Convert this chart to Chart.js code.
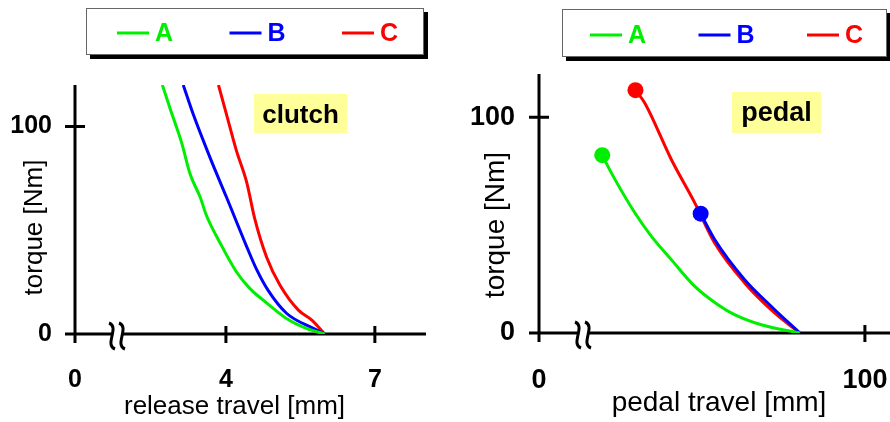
<!DOCTYPE html>
<html>
<head>
<meta charset="utf-8">
<script src="https://cdn.jsdelivr.net/npm/chart.js@4.4.1/dist/chart.umd.min.js"></script>
<style>
  html, body { margin: 0; padding: 0; background: #fff; }
  #wrap { position: relative; width: 890px; height: 422px; overflow: hidden; }
  canvas { position: absolute; top: 0; }
</style>
</head>
<body>
<div id="wrap">
  <canvas id="clutchChart" width="445" height="422" style="left:0"></canvas>
  <canvas id="pedalChart" width="445" height="422" style="left:445px"></canvas>
</div>
<script>
const seriesNames = ['A', 'B', 'C'];
const seriesColors = ['#00ee00', '#0000ff', '#ff0000'];

// clutch: release travel [mm] -> torque [Nm]
const clutchAX = [2.72, 2.87, 3.11, 3.28, 3.48, 3.61, 3.88, 4.21, 4.48, 4.82, 5.22, 5.62, 5.99];
const clutchAY = [120, 109, 92, 77, 66, 57, 44, 30, 22, 15, 7.5, 2.7, 0];
const clutchBX = [3.14, 3.34, 3.68, 4.01, 4.42, 4.62, 4.85, 5.22, 5.76, 5.99];
const clutchBY = [120, 106, 85, 66, 42, 31, 21, 10, 2.7, 0];
const clutchCX = [3.85, 4.01, 4.21, 4.42, 4.58, 4.82, 5.09, 5.46, 5.73, 5.99];
const clutchCY = [120, 106, 88.5, 73, 55.6, 37, 23.5, 11.5, 6.7, 0];
// broken axis: the "0" label sits where the axis starts
const clutchXTicks = [0.96, 4, 7];
const clutchXLabels = ['0', '4', '7'];

// pedal: pedal travel [mm] -> torque [Nm]
const pedalAX = [19.4, 22.2, 29.4, 34.5, 40.6, 47.8, 54.9, 60, 68.2, 80];
const pedalAY = [82.4, 74.2, 55.7, 44.8, 34, 21.6, 13.1, 8.5, 3.8, 0];
const pedalBX = [49.6, 53.9, 63.1, 71.3, 80];
const pedalBY = [55.3, 43.3, 24.7, 12.3, 0];
const pedalCX = [29.6, 32.4, 40.6, 47.8, 53.9, 63.1, 72.3, 80];
const pedalCY = [112.5, 106.7, 80.4, 60.3, 41.7, 23.2, 9.3, 0];
const pedalXTicks = [0, 100];
const pedalXLabels = ['0', '100'];

const torqueTicks = [0, 100];

const FONT = "'Liberation Sans', Arial, sans-serif";

function toPoints(xs, ys) {
  return xs.map((x, i) => ({ x: x, y: ys[i] }));
}

function makeDatasets(seriesX, seriesY, dotRadius) {
  return seriesX.map((xs, i) => ({
    label: seriesNames[i],
    data: toPoints(xs, seriesY[i]),
    borderColor: seriesColors[i],
    backgroundColor: seriesColors[i],
    borderWidth: 3,
    cubicInterpolationMode: 'monotone',
    pointRadius: xs.map((_, j) => (j === 0 ? dotRadius : 0)),
    pointBorderWidth: 0,
    fill: false
  }));
}

function squiggle(ctx, x, y) {
  ctx.beginPath();
  ctx.moveTo(x - 3, y - 13);
  ctx.bezierCurveTo(x + 8, y - 9, x - 8, y + 9, x + 3, y + 13);
  ctx.stroke();
}

const decor = {
  id: 'decor',
  beforeDatasetsDraw(chart, args, o) {
    const { ctx } = chart;
    const xs = chart.scales.x, ys = chart.scales.y;
    const x0 = xs.getPixelForValue(xs.min);
    const y0 = ys.getPixelForValue(0);
    ctx.save();
    ctx.strokeStyle = '#000';
    ctx.lineWidth = 3;
    ctx.beginPath();
    ctx.moveTo(x0, ys.getPixelForValue(ys.max));
    ctx.lineTo(x0, y0 + 9);
    ctx.moveTo(x0 - 10, y0);
    ctx.lineTo(xs.getPixelForValue(xs.max), y0);
    ys.ticks.forEach(t => {
      if (t.value === 0) return;
      const p = ys.getPixelForValue(t.value);
      ctx.moveTo(x0 - 10, p);
      ctx.lineTo(x0 + 10, p);
    });
    xs.ticks.forEach(t => {
      if (t.value === xs.min) return;
      const p = xs.getPixelForValue(t.value);
      ctx.moveTo(p, y0 - 8);
      ctx.lineTo(p, y0 + 9);
    });
    ctx.stroke();
    // axis break
    ctx.fillStyle = '#fff';
    ctx.fillRect(o.breakX - 5, y0 - 3, 10, 6);
    ctx.lineWidth = 3;
    squiggle(ctx, o.breakX - 5, y0 + 2);
    squiggle(ctx, o.breakX + 5, y0 + 2);
    ctx.restore();
  },
  afterDraw(chart, args, o) {
    const { ctx } = chart;
    ctx.save();
    // legend frame with shadow
    const lg = o.legend;
    ctx.fillStyle = '#000';
    ctx.fillRect(lg.x + 4, lg.y + 4, lg.w, lg.h);
    ctx.fillStyle = '#fff';
    ctx.fillRect(lg.x, lg.y, lg.w, lg.h);
    ctx.strokeStyle = '#666';
    ctx.lineWidth = 1;
    ctx.strokeRect(lg.x + 0.5, lg.y + 0.5, lg.w - 1, lg.h - 1);
    chart.data.datasets.forEach((ds, i) => {
      const sx = lg.itemX + i * lg.step;
      ctx.strokeStyle = ds.borderColor;
      ctx.lineWidth = 3;
      ctx.beginPath();
      ctx.moveTo(sx, lg.itemY);
      ctx.lineTo(sx + 32, lg.itemY);
      ctx.stroke();
      ctx.fillStyle = ds.borderColor;
      ctx.font = 'bold 25px ' + FONT;
      ctx.textAlign = 'left';
      ctx.textBaseline = 'middle';
      ctx.fillText(ds.label, sx + 38, lg.itemY + 1);
    });
    // yellow label box
    const nb = o.note;
    ctx.fillStyle = '#ffff99';
    ctx.fillRect(nb.x, nb.y, nb.w, nb.h);
    ctx.fillStyle = '#000';
    ctx.font = 'bold ' + nb.size + 'px ' + FONT;
    ctx.textAlign = 'center';
    ctx.textBaseline = 'alphabetic';
    ctx.fillText(nb.text, nb.x + nb.w / 2, nb.base);
    // axis titles
    ctx.font = o.titleSize + 'px ' + FONT;
    ctx.textBaseline = 'middle';
    ctx.fillText(o.xTitle.text, o.xTitle.x, o.xTitle.y);
    ctx.translate(o.yTitle.x, o.yTitle.y);
    ctx.rotate(-Math.PI / 2);
    ctx.fillText(o.yTitle.text, 0, 0);
    ctx.restore();
  }
};

function baseOptions(xMin, xMax, xTicks, xLabels, tickSize, pad, yWidth, xHeight, tickPadY, tickPadX) {
  return {
    responsive: false,
    animation: false,
    events: [],
    layout: { padding: pad, autoPadding: false },
    plugins: { legend: { display: false }, tooltip: { enabled: false } },
    scales: {
      x: {
        type: 'linear',
        min: xMin,
        max: xMax,
        afterBuildTicks: s => { s.ticks = xTicks.map(v => ({ value: v })); },
        afterFit: s => { s.height = xHeight; s.paddingLeft = 0; s.paddingRight = 0; },
        grid: { display: false, drawTicks: false },
        border: { display: false },
        ticks: {
          padding: tickPadX,
          color: '#000',
          font: { family: FONT, size: tickSize, weight: 'bold' },
          callback: v => xLabels[xTicks.indexOf(v)]
        }
      },
      y: {
        type: 'linear',
        min: 0,
        max: 120,
        afterBuildTicks: s => { s.ticks = torqueTicks.map(v => ({ value: v })); },
        afterFit: s => { s.width = yWidth; s.paddingTop = 0; s.paddingBottom = 0; },
        grid: { display: false, drawTicks: false },
        border: { display: false },
        ticks: {
          padding: tickPadY,
          color: '#000',
          font: { family: FONT, size: tickSize, weight: 'bold' }
        }
      }
    }
  };
}

const clutchOptions = baseOptions(0.96, 8.03, clutchXTicks, clutchXLabels, 25,
  { left: 0, top: 85, right: 19, bottom: 0 }, 75, 88, 23, 31);
clutchOptions.plugins.decor = {
  breakX: 117,
  legend: { x: 86, y: 8, w: 338, h: 47, itemX: 117, itemY: 33, step: 112.5 },
  note: { x: 254, y: 94, w: 93, h: 39, text: 'clutch', size: 26, base: 122.5 },
  titleSize: 26,
  xTitle: { text: 'release travel [mm]', x: 234.5, y: 407 },
  yTitle: { text: 'torque [Nm]', x: 35, y: 227.5 }
};

new Chart(document.getElementById('clutchChart'), {
  type: 'line',
  data: {
    datasets: makeDatasets([clutchAX, clutchBX, clutchCX], [clutchAY, clutchBY, clutchCY], 0)
  },
  options: clutchOptions,
  plugins: [decor]
});

const pedalOptions = baseOptions(0, 107.7, pedalXTicks, pedalXLabels, 27,
  { left: 0, top: 74, right: 0, bottom: 0 }, 94, 89, 24, 31);
pedalOptions.plugins.decor = {
  breakX: 138,
  legend: { x: 117, y: 9, w: 325, h: 48, itemX: 145, itemY: 35, step: 108.5 },
  note: { x: 287, y: 92, w: 89, h: 41, text: 'pedal', size: 27, base: 121 },
  titleSize: 28,
  xTitle: { text: 'pedal travel [mm]', x: 274, y: 403.5 },
  yTitle: { text: 'torque [Nm]', x: 51, y: 225 }
};

new Chart(document.getElementById('pedalChart'), {
  type: 'line',
  data: {
    datasets: makeDatasets([pedalAX, pedalBX, pedalCX], [pedalAY, pedalBY, pedalCY], 8)
  },
  options: pedalOptions,
  plugins: [decor]
});
</script>
</body>
</html>
